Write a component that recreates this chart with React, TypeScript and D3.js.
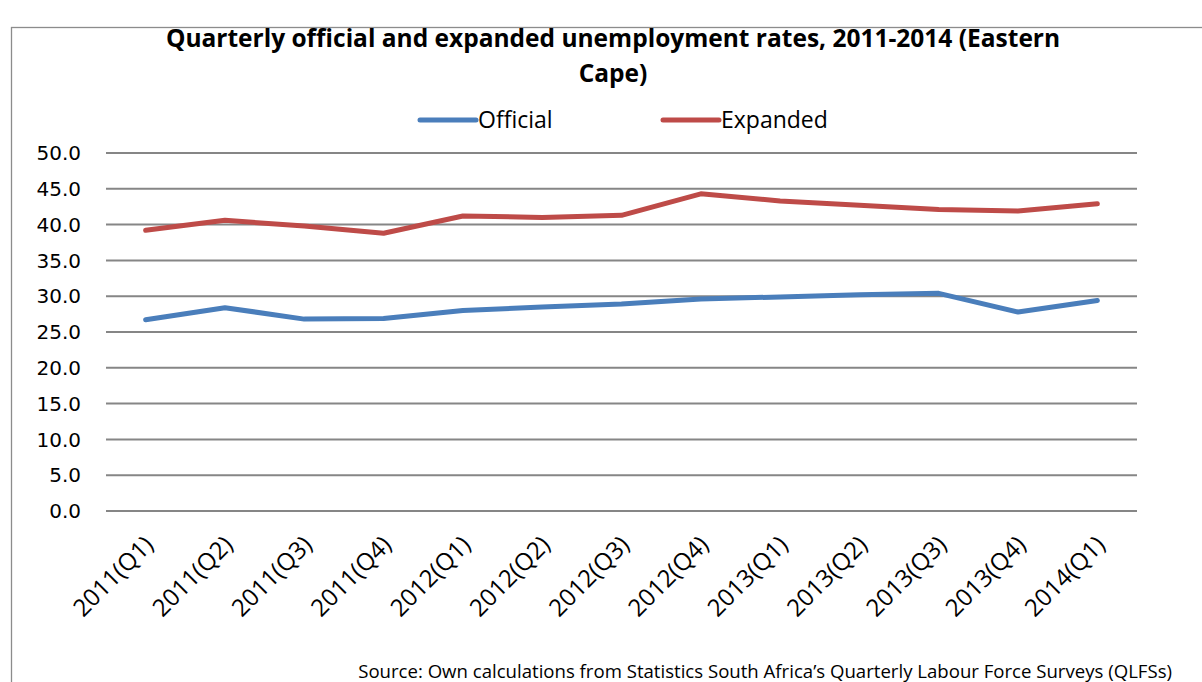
import React from "react";
import * as d3 from "d3";

const categories = [
  "2011(Q1)", "2011(Q2)", "2011(Q3)", "2011(Q4)",
  "2012(Q1)", "2012(Q2)", "2012(Q3)", "2012(Q4)",
  "2013(Q1)", "2013(Q2)", "2013(Q3)", "2013(Q4)", "2014(Q1)",
];
const official = [26.7, 28.4, 26.8, 26.9, 28.0, 28.5, 28.9, 29.6, 29.9, 30.2, 30.4, 27.8, 29.4];
const expanded = [39.2, 40.6, 39.8, 38.8, 41.2, 41.0, 41.3, 44.3, 43.3, 42.7, 42.1, 41.9, 42.9];
const yTicks = [0, 5, 10, 15, 20, 25, 30, 35, 40, 45, 50];

const seriesList = [
  { name: "Official", values: official, color: "#4A7EBB" },
  { name: "Expanded", values: expanded, color: "#BE4B48" },
];

const W = 1202;
const H = 682;
const plot = { left: 106, right: 1137, top: 153, bottom: 511 };
const FONT = "'Open Sans', 'DejaVu Sans', sans-serif";

export default function App() {
  const x = d3.scaleBand<string>().domain(categories).range([plot.left, plot.right]);
  const y = d3.scaleLinear().domain([0, 50]).range([plot.bottom, plot.top]);
  const cx = (c: string) => (x(c) as number) + x.bandwidth() / 2;
  const line = (vals: number[]) =>
    d3.line<number>().x((_, i) => cx(categories[i])).y((v) => y(v))(vals) as string;

  const legendItems = [
    { ...seriesList[0], lx: 420 },
    { ...seriesList[1], lx: 663 },
  ];

  return (
    <svg width={W} height={H} style={{ position: "absolute", left: 0, top: 0, background: "#fff" }} fontFamily={FONT}>
      <rect x={11.5} y={27.5} width={1300} height={700} fill="#fff" stroke="#8c8c8c" strokeWidth={1.3} />
      <text x={613} y={47} textAnchor="middle" fontSize={24.5} fontWeight="bold" fill="#000">
        Quarterly official and expanded unemployment rates, 2011-2014 (Eastern
      </text>
      <text x={613} y={82} textAnchor="middle" fontSize={24.5} fontWeight="bold" fill="#000">
        Cape)
      </text>
      {legendItems.map((s) => (
        <g key={s.name}>
          <line x1={s.lx} x2={s.lx + 56} y1={120} y2={120} stroke={s.color} strokeWidth={5} strokeLinecap="round" />
          <text x={s.lx + 58} y={128} fontSize={23} fill="#000">{s.name}</text>
        </g>
      ))}
      {yTicks.map((t) => (
        <g key={t}>
          <line x1={plot.left} x2={plot.right} y1={y(t)} y2={y(t)} stroke="#868686" strokeWidth={2} />
          <text x={81} y={y(t)} dy="0.36em" textAnchor="end" fontSize={20} fontFamily="'DejaVu Sans', sans-serif" fill="#000">
            {d3.format(".1f")(t)}
          </text>
        </g>
      ))}
      {categories.map((c) => (
        <text
          key={c}
          transform={`translate(${cx(c) - 3},${534}) rotate(-45)`}
          textAnchor="end"
          fontSize={24}
          fill="#000"
          dy="0.72em"
        >
          {c}
        </text>
      ))}
      {seriesList.map((s) => (
        <path key={s.name} d={line(s.values)} fill="none" stroke={s.color} strokeWidth={5} strokeLinecap="round" strokeLinejoin="round" />
      ))}
      <text x={1172} y={678} textAnchor="end" fontSize={18.6} fill="#000">
        Source: Own calculations from Statistics South Africa’s Quarterly Labour Force Surveys (QLFSs)
      </text>
    </svg>
  );
}
